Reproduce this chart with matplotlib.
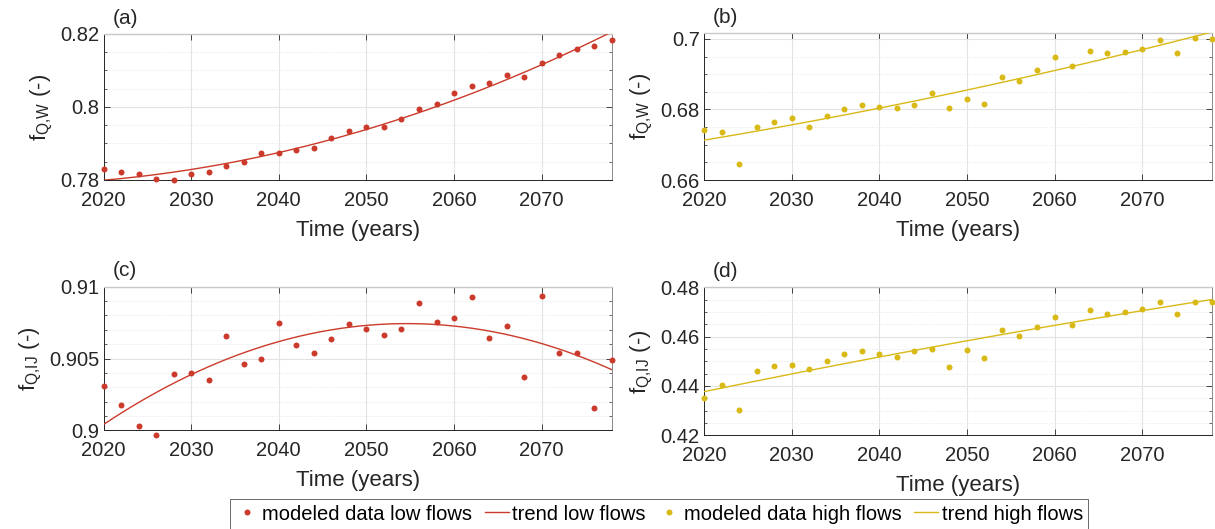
import numpy as np
import matplotlib
matplotlib.use("Agg")
import matplotlib.pyplot as plt
from matplotlib.ticker import MultipleLocator, FuncFormatter
from matplotlib.lines import Line2D

plt.rcParams['font.family'] = ['Liberation Sans', 'DejaVu Sans']
plt.rcParams['mathtext.fontset'] = 'custom'
plt.rcParams['mathtext.rm'] = 'Liberation Sans'
plt.rcParams['mathtext.it'] = 'Liberation Sans:italic'
plt.rcParams['mathtext.bf'] = 'Liberation Sans:bold'

years = list(range(2020, 2079, 2))

# (a) f_Q,W low flows
a_data = [0.7831, 0.7821, 0.7817, 0.7803, 0.7799, 0.7816, 0.7823, 0.7837, 0.7850, 0.7873,
          0.7874, 0.7881, 0.7889, 0.7916, 0.7934, 0.7944, 0.7946, 0.7968, 0.7994, 0.8008,
          0.8038, 0.8058, 0.8067, 0.8088, 0.8083, 0.8121, 0.8142, 0.8159, 0.8168, 0.8183]
# (b) f_Q,W high flows
b_data = [0.6742, 0.6736, 0.6645, 0.6749, 0.6764, 0.6776, 0.6750, 0.6782, 0.6802, 0.6812,
          0.6806, 0.6805, 0.6812, 0.6846, 0.6803, 0.6829, 0.6816, 0.6892, 0.6881, 0.6912,
          0.6949, 0.6924, 0.6965, 0.6959, 0.6962, 0.6972, 0.6996, 0.6960, 0.7003, 0.7001]
# (c) f_Q,IJ low flows
c_data = [0.90311, 0.90174, 0.90032, 0.89965, 0.90392, 0.90397, 0.90350, 0.90655, 0.90464, 0.90497,
          0.90749, 0.90592, 0.90538, 0.90638, 0.90740, 0.90705, 0.90666, 0.90708, 0.90886, 0.90754,
          0.90782, 0.90926, 0.90643, 0.90728, 0.90373, 0.90937, 0.90538, 0.90540, 0.90157, 0.90492]
# (d) f_Q,IJ high flows
d_data = [0.4350, 0.4403, 0.4301, 0.4461, 0.4480, 0.4484, 0.4468, 0.4503, 0.4531, 0.4543,
          0.4530, 0.4516, 0.4541, 0.4549, 0.4478, 0.4547, 0.4515, 0.4627, 0.4601, 0.4639,
          0.4680, 0.4648, 0.4707, 0.4693, 0.4699, 0.4713, 0.4739, 0.4691, 0.4739, 0.4740]

# trend lines read at a few years
trend_years = [2020, 2030, 2040, 2050, 2060, 2070, 2078]
a_trend = [0.7800, 0.7831, 0.7869, 0.7940, 0.8019, 0.8121, 0.8202]
b_trend = [0.6713, 0.6758, 0.6801, 0.6854, 0.6912, 0.6972, 0.7018]
c_trend = [0.90032, 0.90401, 0.90620, 0.90726, 0.90722, 0.90601, 0.90427]
d_trend = [0.4377, 0.4450, 0.4516, 0.4582, 0.4644, 0.4712, 0.4747]

RED = '#CB3A2A'
YEL = '#D9B916'

W, H = 1215, 529
fig = plt.figure(figsize=(W / 100, H / 100), dpi=100)


def add_axes(left, right, top, bottom):
    return fig.add_axes([left / W, 1 - bottom / H, (right - left) / W, (bottom - top) / H])


panels = [
    dict(pos=(103.5, 611.8, 34, 180), data=a_data, trend=a_trend, color=RED,
         ylim=(0.78, 0.82), major=0.02, minor=0.005, ylabel=r'f$_{\mathrm{Q{,}W}}$ (-)', tag='(a)'),
    dict(pos=(704, 1212.3, 33.3, 180), data=b_data, trend=b_trend, color=YEL,
         ylim=(0.66, 0.7016), major=0.02, minor=0.005, ylabel=r'f$_{\mathrm{Q{,}W}}$ (-)', tag='(b)'),
    dict(pos=(103.5, 611.8, 286.7, 430.3), data=c_data, trend=c_trend, color=RED,
         ylim=(0.9, 0.91), major=0.005, minor=0.001, ylabel=r'f$_{\mathrm{Q{,}IJ}}$ (-)', tag='(c)'),
    dict(pos=(704, 1212.3, 287.3, 435.3), data=d_data, trend=d_trend, color=YEL,
         ylim=(0.42, 0.48), major=0.02, minor=0.005, ylabel=r'f$_{\mathrm{Q{,}IJ}}$ (-)', tag='(d)'),
]

fmt = FuncFormatter(lambda v, p: ('%g' % round(v, 6)))

for p in panels:
    ax = add_axes(*p['pos'])
    yrs = np.array(years)
    ax.plot(yrs, p['data'], 'o', color=p['color'], markersize=4.3, markeredgewidth=0,
            clip_on=False, zorder=4)
    coef = np.polyfit(trend_years, p['trend'], 2)
    xx = np.linspace(2020, 2078, 300)
    ax.plot(xx, np.polyval(coef, xx), '-', color=p['color'], lw=1.0, zorder=3)
    ax.set_xlim(2020, 2078)
    ax.set_ylim(*p['ylim'])
    ax.xaxis.set_major_locator(MultipleLocator(10))
    ax.yaxis.set_major_locator(MultipleLocator(p['major']))
    ax.yaxis.set_minor_locator(MultipleLocator(p['minor']))
    ax.yaxis.set_major_formatter(fmt)
    ax.grid(True, which='major', color='#e3e3e3', lw=0.8, zorder=0)
    ax.grid(True, which='minor', axis='y', color='#e6e6e6', lw=0.7, ls=':', zorder=0)
    ax.set_axisbelow(True)
    ax.tick_params(which='both', direction='in', top=True, right=True, colors='#262626',
                   labelsize=14.5)
    ax.tick_params(axis='x', which='both', pad=8)
    ax.tick_params(axis='y', which='both', pad=3)
    ax.tick_params(which='major', length=4, width=0.6)
    ax.tick_params(which='minor', length=2.5, width=0.5)
    for s in ['left', 'bottom']:
        ax.spines[s].set_color('#262626')
        ax.spines[s].set_linewidth(0.7)
    ax.spines['right'].set_color('#8a8a8a')
    ax.spines['right'].set_linewidth(0.7)
    ax.spines['top'].set_color('#c8c8c8')
    ax.spines['top'].set_linewidth(1.0)
    ax.set_xlabel('Time (years)', fontsize=16, color='#262626', labelpad=7)
    ax.set_ylabel(p['ylabel'], fontsize=16, color='#262626', labelpad=4)
    l, r, t, b = p['pos']
    fig.text((l + 9) / W, 1 - (t - 16) / H, p['tag'], fontsize=15, color='#262626',
             ha='left', va='center')

handles = [
    Line2D([], [], ls='none', marker='o', color=RED, markersize=4.3, markeredgewidth=0),
    Line2D([], [], ls='-', color=RED, lw=1.0),
    Line2D([], [], ls='none', marker='o', color=YEL, markersize=4.3, markeredgewidth=0),
    Line2D([], [], ls='-', color=YEL, lw=1.0),
]
labels = ['modeled data low flows', 'trend low flows', 'modeled data high flows', 'trend high flows']
leg = fig.legend(handles, labels, loc='center', bbox_to_anchor=(659 / W, 1 - 514 / H),
                 ncol=4, fontsize=14.5, frameon=True, fancybox=False, handlelength=1.2,
                 handletextpad=0.15, columnspacing=0.6, borderpad=0.25, borderaxespad=0)
leg.get_frame().set_edgecolor('#262626')
leg.get_frame().set_linewidth(0.6)

fig.savefig('out.png', dpi=100)
